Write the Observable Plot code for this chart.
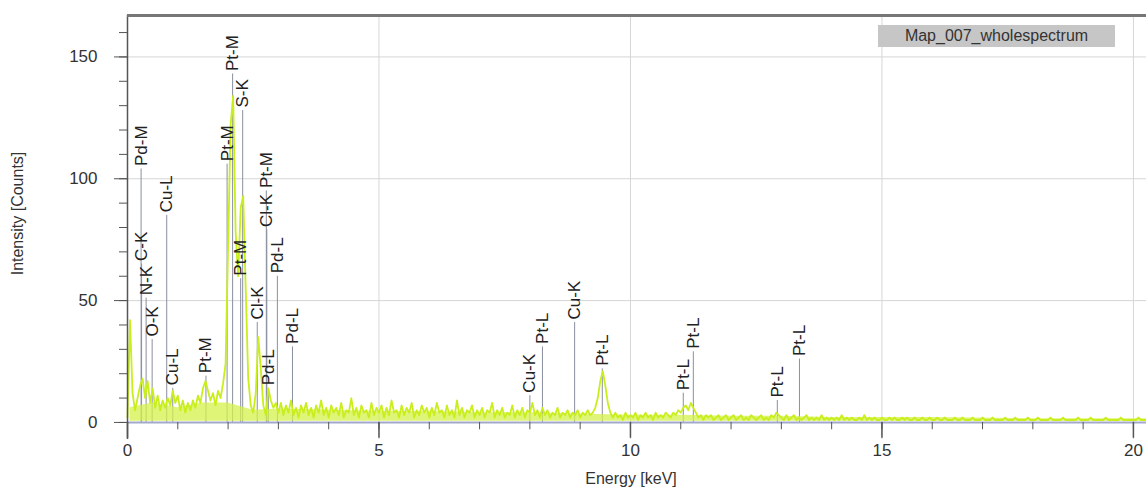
<!DOCTYPE html>
<html>
<head>
<meta charset="utf-8">
<script src="https://cdn.jsdelivr.net/npm/d3@7"></script>
<script src="https://cdn.jsdelivr.net/npm/@observablehq/plot@0.6"></script>
<style>
  body { margin: 0; background: #fff; font-family: "Liberation Sans", Arial, sans-serif; }
  #wrap { position: relative; width: 1146px; height: 488px; }
  #legend { position: absolute; left: 878px; top: 25px; width: 237px; height: 22px;
            background: #c6c6c6; color: #333; font-size: 16px; line-height: 22px; text-align: center; }
</style>
</head>
<body>
<div id="wrap"><div id="legend">Map_007_wholespectrum</div></div>
<script>
// Spectrum channel width (keV) and counts, 0 .. 20.25 keV
const channelWidth = 0.05;
const counts = [
  // 0.00 - 0.95
  2, 42, 12, 5, 10, 15, 18, 10, 17, 8, 14, 6, 11, 5, 9, 6, 10, 7, 13, 8,
  // 1.00 - 1.95
  11, 5, 9, 4, 8, 5, 9, 6, 11, 8, 14, 17, 13, 9, 12, 7, 13, 10, 16, 24,
  // 2.00 - 2.95
  72, 122, 134, 78, 60, 88, 93, 55, 18, 7, 4, 12, 35, 22, 7, 3, 14, 9, 6, 8,
  // 3.00 - 3.95
  4, 8, 3, 7, 4, 9, 3, 6, 2, 7, 4, 8, 3, 6, 2, 7, 4, 9, 3, 6,
  // 4.00 - 4.95
  2, 7, 4, 6, 3, 8, 2, 5, 4, 10, 3, 6, 2, 7, 4, 5, 2, 8, 3, 6,
  // 5.00 - 5.95
  4, 7, 2, 6, 3, 9, 4, 5, 2, 7, 3, 6, 4, 8, 2, 5, 3, 7, 4, 6,
  // 6.00 - 6.95
  2, 6, 3, 8, 4, 5, 2, 7, 3, 5, 2, 9, 3, 6, 2, 5, 4, 7, 2, 5,
  // 7.00 - 7.95
  3, 6, 2, 5, 4, 8, 2, 5, 3, 6, 2, 4, 3, 7, 2, 5, 3, 6, 2, 5,
  // 8.00 - 8.95
  4, 8, 3, 5, 2, 6, 3, 5, 2, 4, 3, 6, 2, 4, 3, 5, 2, 4, 3, 5,
  // 9.00 - 9.95
  2, 4, 3, 5, 3, 4, 6, 10, 17, 21, 15, 8, 4, 2, 4, 2, 3, 1, 4, 2,
  // 10.00 - 10.95
  3, 2, 4, 1, 3, 2, 4, 2, 3, 1, 4, 2, 3, 2, 4, 3, 2, 4, 3, 5,
  // 11.00 - 11.95
  4, 6, 7, 5, 8, 6, 4, 2, 3, 1, 3, 2, 3, 1, 2, 3, 1, 2, 3, 1,
  // 12.00 - 12.95
  2, 3, 1, 2, 3, 1, 2, 1, 3, 2, 1, 2, 3, 1, 2, 1, 3, 2, 4, 3,
  // 13.00 - 13.95
  2, 1, 3, 1, 2, 3, 1, 2, 1, 2, 3, 1, 2, 1, 2, 1, 3, 1, 2, 1,
  // 14.00 - 14.95
  2, 1, 2, 1, 3, 1, 2, 1, 2, 1, 1, 2, 1, 3, 1, 2, 1, 2, 1, 1,
  // 15.00 - 15.95
  2, 1, 1, 2, 1, 2, 1, 1, 2, 1, 2, 1, 1, 2, 1, 1, 2, 1, 1, 2,
  // 16.00 - 16.95
  1, 1, 2, 1, 1, 2, 1, 1, 1, 2, 1, 1, 2, 1, 1, 1, 2, 1, 1, 1,
  // 17.00 - 17.95
  2, 1, 1, 1, 2, 1, 1, 1, 1, 2, 1, 1, 1, 2, 1, 1, 1, 1, 2, 1,
  // 18.00 - 18.95
  1, 1, 2, 1, 1, 1, 1, 2, 1, 1, 1, 1, 2, 1, 1, 1, 1, 1, 2, 1,
  // 19.00 - 19.95
  1, 1, 1, 2, 1, 1, 1, 1, 1, 2, 1, 1, 1, 1, 1, 2, 1, 1, 1, 1,
  // 20.00 - 20.25
  1, 1, 2, 1, 1, 1
];

// Envelope of the dense channel noise near the baseline (keV, counts)
const bandEnergy = [0.05, 0.5, 1, 1.5, 2, 2.5, 3, 4, 5, 6, 7, 8, 9, 10, 11, 12, 13, 14, 16, 18, 20.26];
const bandTop    = [6, 8, 6, 8, 8, 5, 5.5, 5, 4.5, 4.5, 4, 4, 3.5, 3, 3, 2.5, 2.5, 2, 2, 1.5, 1.5];

// Peak identification labels
const peakNames  = ["Pd-M","C-K","N-K","O-K","Cu-L","Cu-L","Pt-M","Pt-M","Pt-M","S-K","Pt-M","Cl-K","Pt-M","Cl-K","Pd-L","Pd-L","Pd-L","Cu-K","Pt-L","Cu-K","Pt-L","Pt-L","Pt-L","Pt-L","Pt-L"];
const peakEnergy = [0.27, 0.28, 0.37, 0.49, 0.78, 0.90, 1.56, 1.98, 2.09, 2.29, 2.25, 2.58, 2.76, 2.77, 2.80, 2.98, 3.28, 8.00, 8.25, 8.89, 9.44, 11.05, 11.25, 12.92, 13.36];
const peakTop    = [104, 65, 51, 34, 85, 14, 19, 106, 143, 128, 59, 41, 95, 79, 14, 60, 31, 11, 31, 41, 22, 12, 29, 9, 26];

// Axis ticks
const xMajor = [0, 5, 10, 15, 20];
const xMinor = d3.range(0, 21, 1);
const yMajor = [0, 50, 100, 150];
const yMinor = d3.range(0, 161, 10);
const xDomain = [0, 20.26];
const yDomain = [-7, 167];

const spectrum = counts.map((c, i) => ({energy: +(i * channelWidth).toFixed(2), counts: c}));
const band = bandEnergy.map((e, i) => ({energy: e, top: bandTop[i]}));
const peaks = peakNames.map((n, i) => ({name: n, energy: peakEnergy[i], top: peakTop[i]}));

const chart = Plot.plot({
  width: 1146,
  height: 488,
  marginLeft: 127,
  marginRight: 0,
  marginTop: 15,
  marginBottom: 49,
  style: {fontFamily: "'Liberation Sans', Arial, sans-serif", color: "#333", background: "#fff"},
  x: {domain: xDomain, axis: null},
  y: {domain: yDomain, axis: null},
  marks: [
    Plot.ruleX(xMajor.filter(d => d > 0), {stroke: "#d6d6d6", strokeWidth: 1}),
    Plot.ruleY(yMajor.filter(d => d > 0), {stroke: "#d6d6d6", strokeWidth: 1}),
    Plot.ruleX(peaks, {x: "energy", y1: 0, y2: "top", stroke: "#8a8fa0", strokeWidth: 1}),
    Plot.ruleY([0], {stroke: "#a3a9c9", strokeWidth: 2}),
    Plot.areaY(band, {x: "energy", y1: 0.5, y2: "top", fill: "#d4f24a", fillOpacity: 0.75}),
    Plot.line(spectrum, {x: "energy", y: "counts", stroke: "#c8ef1c", strokeWidth: 1.8}),
    Plot.ruleX([0], {y1: yDomain[0], y2: yDomain[1], stroke: "#555", strokeWidth: 1.5}),
    Plot.ruleY([yDomain[1]], {stroke: "#777", strokeWidth: 3}),
    Plot.ruleX(xMinor, {y1: 0, y2: -3, stroke: "#555", strokeWidth: 1}),
    Plot.ruleX(xMajor, {y1: 0, y2: -6.5, stroke: "#555", strokeWidth: 1.5}),
    Plot.axisY(yMajor, {tickSize: 13, tickPadding: 17, fontSize: 17, label: null, stroke: "#555"}),
    Plot.axisY(yMinor, {tickSize: 8, tickFormat: () => "", label: null, stroke: "#555"}),
    Plot.axisX(xMajor, {tickSize: 0, tickPadding: 4, fontSize: 17, label: null}),
    Plot.text(peaks, {x: "energy", y: "top", text: "name", rotate: -90, textAnchor: "start", dy: -3, fontSize: 17, fill: "#222"}),
    Plot.text(["Intensity [Counts]"], {text: d => d, frameAnchor: "left", textAnchor: "middle", lineAnchor: "middle", rotate: -90, dx: -110, dy: -14, fontSize: 16, fill: "#333"}),
    Plot.text(["Energy [keV]"], {text: d => d, frameAnchor: "bottom", textAnchor: "middle", lineAnchor: "middle", dx: -6, dy: 39, fontSize: 16, fill: "#333"})
  ]
});
document.getElementById("wrap").prepend(chart);
</script>
</body>
</html>
